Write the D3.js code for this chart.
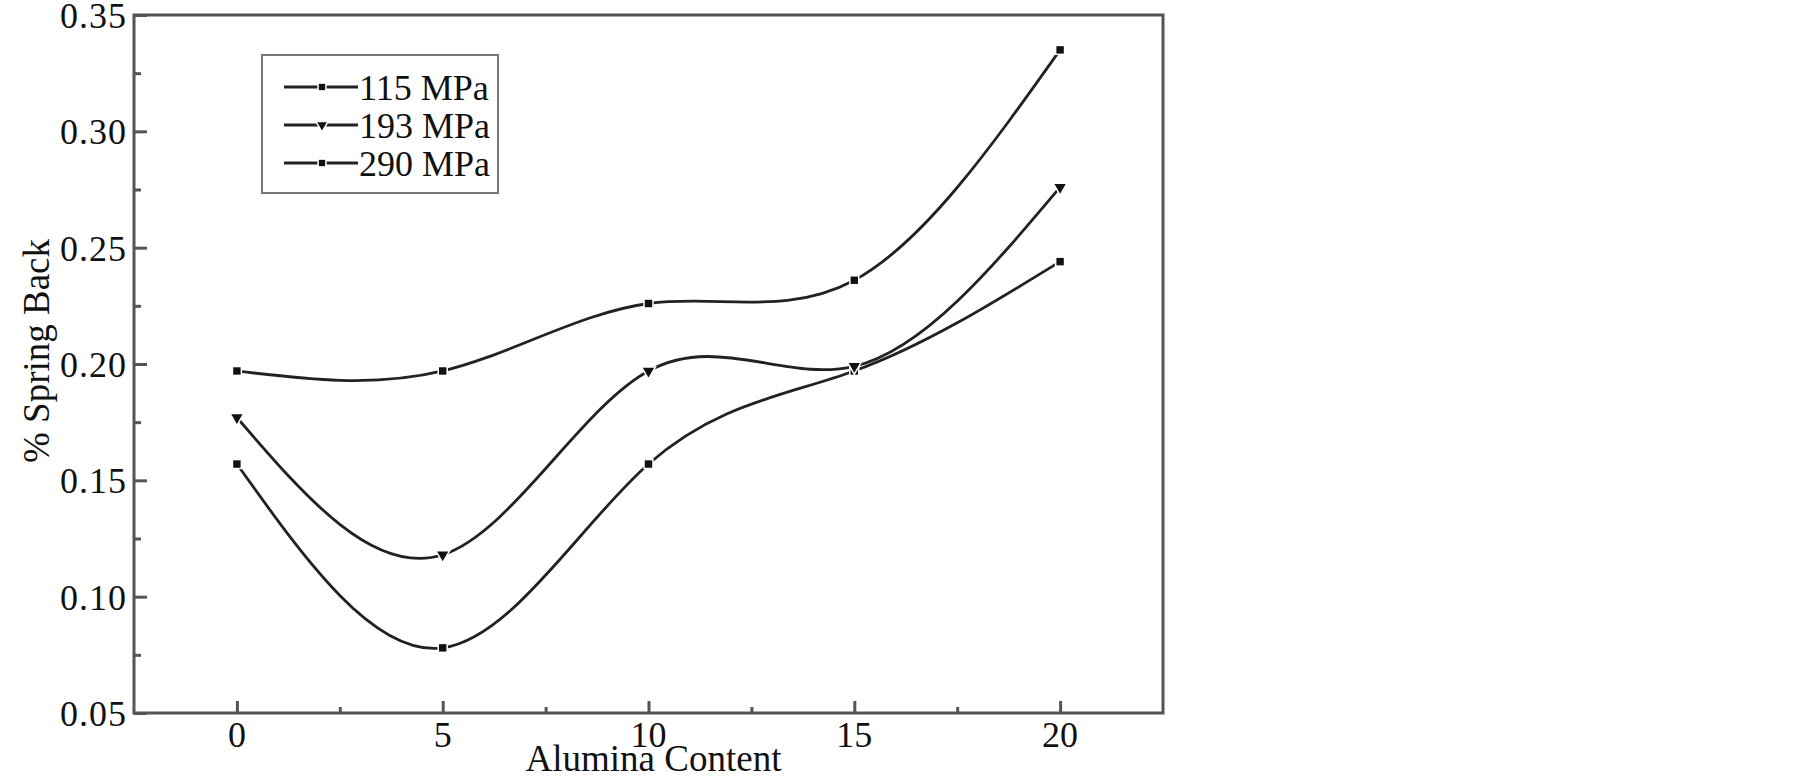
<!DOCTYPE html>
<html>
<head>
<meta charset="utf-8">
<script src="https://cdn.jsdelivr.net/npm/d3@7"></script>
<style>
  body { margin: 0; background: #fff; }
  text { font-family: "Liberation Serif", "Times New Roman", serif; fill: #111; }
  .frame { fill: none; stroke: #555; stroke-width: 3; }
  .tick line { stroke: #555; stroke-width: 3; }
  .curve { fill: none; stroke: #222; stroke-width: 2.8; }
  .marker { fill: #111; stroke: #fff; stroke-width: 3; paint-order: stroke; }
</style>
</head>
<body>
<svg id="chart" width="1805" height="779"></svg>
<script>
// alumina content (x) and % spring back for each compaction pressure
var alumina = [0, 5, 10, 15, 20];
var sb115 = [0.157, 0.078, 0.157, 0.197, 0.244];
var sb193 = [0.177, 0.118, 0.197, 0.199, 0.276];
var sb290 = [0.197, 0.197, 0.226, 0.236, 0.335];
var seriesNames = ["115 MPa", "193 MPa", "290 MPa"];
var xTicks = [0, 5, 10, 15, 20];
var yTicks = [0.05, 0.10, 0.15, 0.20, 0.25, 0.30, 0.35];

var margin = {top: 15, right: 642, bottom: 66, left: 134};

var svg = d3.select("#chart"),
    width = +svg.attr("width") - margin.left - margin.right,
    height = +svg.attr("height") - margin.top - margin.bottom;

var g = svg.append("g")
    .attr("transform", "translate(" + margin.left + "," + margin.top + ")");

var x = d3.scaleLinear()
    .domain([-2.5, 22.5])
    .range([0, width]);

var y = d3.scaleLinear()
    .domain([0.05, 0.35])
    .range([height, 0]);

var series = [sb115, sb193, sb290].map(function(vals, i) {
  return {
    name: seriesNames[i],
    symbol: [d3.symbolSquare, d3.symbolTriangle, d3.symbolSquare][i],
    rotate: [0, 180, 0][i],
    values: alumina.map(function(a, j) { return {x: a, y: vals[j]}; })
  };
});

// minor ticks (inward, no labels)
g.append("g")
    .attr("transform", "translate(0," + height + ")")
    .call(d3.axisTop(x).tickValues([2.5, 7.5, 12.5, 17.5]).tickSize(6).tickFormat(""))
    .select(".domain").remove();

g.append("g")
    .call(d3.axisRight(y).tickValues([0.075, 0.125, 0.175, 0.225, 0.275, 0.325]).tickSize(7).tickFormat(""))
    .select(".domain").remove();

// major ticks
g.append("g")
    .attr("transform", "translate(0," + height + ")")
    .call(d3.axisTop(x).tickValues(xTicks).tickSize(12).tickFormat(""))
    .select(".domain").remove();

g.append("g")
    .call(d3.axisRight(y).tickValues(yTicks).tickSize(13).tickFormat(""))
    .select(".domain").remove();

// tick labels
g.selectAll(".xlabel")
  .data(xTicks)
  .enter().append("text")
    .attr("class", "xlabel")
    .attr("x", function(d) { return x(d); })
    .attr("y", height + 34)
    .attr("text-anchor", "middle")
    .attr("font-size", 36)
    .text(function(d) { return d; });

g.selectAll(".ylabel")
  .data(yTicks)
  .enter().append("text")
    .attr("class", "ylabel")
    .attr("x", -7)
    .attr("y", function(d) { return y(d); })
    .attr("dy", "0.36em")
    .attr("text-anchor", "end")
    .attr("font-size", 36)
    .attr("letter-spacing", 1)
    .text(d3.format(".2f"));

// frame
g.append("rect")
    .attr("class", "frame")
    .attr("width", width)
    .attr("height", height);

// axis titles
g.append("text")
    .attr("x", width / 2 + 5)
    .attr("y", height + 58)
    .attr("text-anchor", "middle")
    .attr("font-size", 37)
    .text("Alumina Content");

g.append("text")
    .attr("transform", "translate(" + (49 - margin.left) + "," + (351 - margin.top) + ") rotate(-90)")
    .attr("text-anchor", "middle")
    .attr("font-size", 37)
    .text("% Spring Back");

// curves
var line = d3.line()
    .curve(d3.curveNatural)
    .x(function(d) { return x(d.x); })
    .y(function(d) { return y(d.y); });

g.selectAll(".curve")
  .data(series)
  .enter().append("path")
    .attr("class", "curve")
    .attr("d", function(d) { return line(d.values); });

series.forEach(function(s) {
  g.selectAll(null)
    .data(s.values)
    .enter().append("path")
      .attr("class", "marker")
      .attr("transform", function(d) { return "translate(" + x(d.x) + "," + y(d.y) + ") rotate(" + s.rotate + ")"; })
      .attr("d", d3.symbol().type(s.symbol).size(55));
});

// legend
var legend = svg.append("g")
    .attr("transform", "translate(262,55)");

legend.append("rect")
    .attr("width", 236)
    .attr("height", 138)
    .attr("fill", "none")
    .attr("stroke", "#777")
    .attr("stroke-width", 2);

var item = legend.selectAll(".item")
  .data(series)
  .enter().append("g")
    .attr("class", "item")
    .attr("transform", function(d, i) { return "translate(0," + (32 + i * 38) + ")"; });

item.append("line")
    .attr("x1", 22)
    .attr("x2", 96)
    .attr("stroke", "#222")
    .attr("stroke-width", 2.8);

item.append("path")
    .attr("class", "marker")
    .attr("transform", function(d) { return "translate(60,0) rotate(" + d.rotate + ")"; })
    .attr("d", function(d) { return d3.symbol().type(d.symbol).size(40)(); });

item.append("text")
    .attr("x", 97)
    .attr("dy", "0.36em")
    .attr("font-size", 36)
    .text(function(d) { return d.name; });
</script>
</body>
</html>
